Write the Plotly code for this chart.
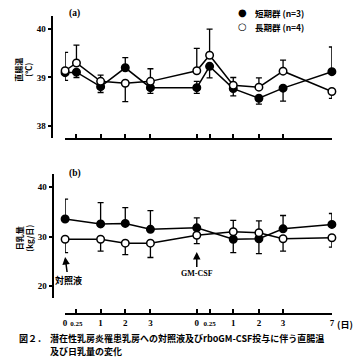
import plotly.graph_objects as go

# ---- axis categories (sampling times) ----
time_keys = ["c0", "c0.25", "c1", "c2", "c3", "g0", "g0.25", "g1", "g2", "g3", "g7"]
tick_text = ["0", "0.25", "1", "2", "3", "0", "0.25", "1", "2", "3", "7"]
tick_vals = [0, 0.46, 1.44, 2.44, 3.46, 5.34, 5.86, 6.82, 7.86, 8.84, 10.82]
slot = dict(zip(time_keys, tick_vals))

# ---- (a) rectal temperature ----
times_a = ["c0", "c0.25", "c1", "c2", "c3", "g0", "g0.25", "g1", "g2", "g3", "g7"]
short_a = [39.10, 39.11, 38.81, 39.20, 38.79, 38.79, 39.23, 38.77, 38.57, 38.78, 39.12]
short_a_plus = [0, 0, 0, 0.21, 0, 0.13, 0, 0, 0, 0, 0.51]
short_a_minus = [0.16, 0.11, 0.12, 0, 0.12, 0.12, 0.24, 0.15, 0.12, 0.27, 0]
long_a = [39.14, 39.30, 38.92, 38.88, 38.92, 39.14, 39.46, 38.84, 38.80, 39.13, 38.71]
long_a_plus = [0.38, 0.37, 0.13, 0, 0.26, 0.46, 0.54, 0.16, 0.19, 0.23, 0]
long_a_minus = [0, 0, 0, 0.38, 0, 0, 0, 0, 0, 0, 0.14]

# ---- (b) daily milk yield ----
times_b = ["c0", "c1", "c2", "c3", "g0", "g1", "g2", "g3", "g7"]
short_b = [33.6, 32.6, 32.7, 31.5, 31.8, 29.5, 29.6, 31.6, 32.5]
short_b_plus = [4.0, 4.3, 3.2, 3.8, 2.0, 0, 0, 2.7, 2.2]
short_b_minus = [0, 0, 0, 0, 0, 2.7, 3.0, 0, 0]
long_b = [29.5, 29.5, 28.7, 28.7, 30.3, 31.0, 30.8, 29.6, 29.8]
long_b_plus = [0, 0, 0, 0, 0, 2.3, 2.4, 0, 0]
long_b_minus = [2.7, 2.4, 2.3, 2.9, 1.7, 0, 0, 2.5, 1.9]

series_names = ["短期群 (n=3)", "長期群 (n=4)"]

W, H = 362, 360
def px(x):
    return x / W
def py(y):
    return 1 - y / H

NUM_FONT = "Liberation Serif, Noto Sans CJK JP"
CJK_FONT = "Noto Sans CJK JP"

fig = go.Figure()

def add_series(xkeys, y, plus, minus, filled, name, xa, ya):
    fig.add_trace(go.Scatter(
        x=[slot[k] for k in xkeys], y=y, name=name,
        mode="lines+markers",
        line=dict(color="black", width=1.5),
        marker=dict(size=7.5, color="black" if filled else "white",
                    line=dict(color="black", width=1.5)),
        error_y=dict(type="data", symmetric=False, array=plus, arrayminus=minus,
                     color="black", thickness=1.3, width=3),
        xaxis=xa, yaxis=ya, showlegend=False, cliponaxis=False,
    ))

add_series(times_a, short_a, short_a_plus, short_a_minus, True, series_names[0], "x", "y")
add_series(times_a, long_a, long_a_plus, long_a_minus, False, series_names[1], "x", "y")
add_series(times_b, short_b, short_b_plus, short_b_minus, True, series_names[0], "x2", "y2")
add_series(times_b, long_b, long_b_plus, long_b_minus, False, series_names[1], "x2", "y2")

xdom = [px(64), px(334.5)]
xr = [tick_vals[0], tick_vals[-1]]

fig.update_layout(
    width=W, height=H,
    margin=dict(l=0, r=0, t=0, b=0),
    paper_bgcolor="white", plot_bgcolor="white",
    showlegend=False,
    font=dict(family=NUM_FONT, size=9, color="black", weight="bold"),
    xaxis=dict(domain=xdom, range=xr, anchor="y", showgrid=False, zeroline=False,
               showline=True, linecolor="black", linewidth=1.5,
               tickmode="array", tickvals=tick_vals, ticktext=tick_text,
               ticks="inside", ticklen=4, tickwidth=1.5, tickcolor="black",
               showticklabels=False),
    yaxis=dict(domain=[py(138), py(16)], range=[37.75, 40.27], anchor="free",
               position=px(51), showgrid=False, zeroline=False,
               showline=True, linecolor="black", linewidth=1.5,
               tickvals=[38, 39, 40], ticks="outside", ticklen=4, tickwidth=1.5,
               tickcolor="black", tickfont=dict(size=9, family=NUM_FONT)),
    xaxis2=dict(domain=xdom, range=xr, anchor="free", position=py(314),
                showgrid=False, zeroline=False,
                showline=True, linecolor="black", linewidth=1.5,
                tickmode="array", tickvals=tick_vals,
                ticktext=[("<span style='font-size:7px'>%s</span>" % t) if t == "0.25" else t
                          for t in tick_text],
                ticks="inside", ticklen=4, tickwidth=1.5, tickcolor="black",
                tickfont=dict(size=9, family=NUM_FONT)),
    yaxis2=dict(domain=[py(298), py(174)], range=[17.6, 42.7], anchor="free",
                position=px(52), showgrid=False, zeroline=False,
                showline=True, linecolor="black", linewidth=1.5,
                tickvals=[20, 30, 40], ticks="outside", ticklen=4, tickwidth=1.5,
                tickcolor="black", tickfont=dict(size=9, family=NUM_FONT)),
)

ann = []
def text(x, y, t, size=9, xanchor="center", family=CJK_FONT, angle=0):
    ann.append(dict(xref="paper", yref="paper", x=px(x), y=py(y), text=t,
                    showarrow=False, xanchor=xanchor, yanchor="middle",
                    textangle=angle, font=dict(size=size, family=family)))

text(74, 14, "(a)", size=9.5, family=NUM_FONT)
text(74, 173, "(b)", size=9.5, family=NUM_FONT)
text(22, 70, "直腸温<br>(℃)", size=8, angle=-90)
text(22, 238, "日乳量<br>(kg/日)", size=8, angle=-90)

# legend (symbols + labels)
text(244, 13, "●", size=10, family="DejaVu Sans")
text(244, 27, "○", size=10, family="DejaVu Sans")
text(255, 13, series_names[0], size=8.5, xanchor="left")
text(255, 27, series_names[1], size=8.5, xanchor="left")

text(15, 338.5, "図２．", size=9, xanchor="left")
text(47, 338.5, "潜在性乳房炎罹患乳房への対照液及びrboGM-CSF投与に伴う直腸温", size=9, xanchor="left")
text(47, 351.5, "及び日乳量の変化", size=9, xanchor="left")

ann.append(dict(xref="x2", yref="paper", x=tick_vals[-1], y=py(324), text="(日)",
                showarrow=False, xanchor="left", yanchor="middle", xshift=3,
                font=dict(size=9, family=CJK_FONT)))

# arrows for injections
ann.append(dict(xref="x2", yref="y2", x=slot["c0"], y=25.9, text="対照液",
                showarrow=True, arrowhead=2, arrowsize=1, arrowwidth=1.5,
                arrowcolor="black", ax=3, ay=23, font=dict(size=9, family=CJK_FONT)))
ann.append(dict(xref="x2", yref="y2", x=slot["g0"], y=26.9, text="GM-CSF",
                showarrow=True, arrowhead=2, arrowsize=1, arrowwidth=1.5,
                arrowcolor="black", ax=0, ay=21, font=dict(size=8, family=NUM_FONT)))

fig.update_layout(annotations=ann)

fig.write_html("out.html", config={"displayModeBar": False},
               post_script="document.body.style.margin='0';")
